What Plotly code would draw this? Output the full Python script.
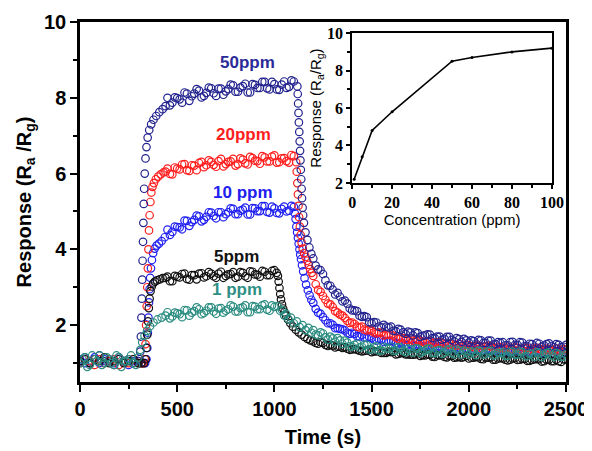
import plotly.graph_objects as go

# ---------------- data ----------------
T_BASE = list(range(0, 301, 25))                       # baseline sampling (s)
T_BASE_MID = [12.5 + 25 * k for k in range(12)]        # interleaved baseline samples
T_PLAT = list(range(450, 1101, 25))                    # plateau sampling, 50/20/10 ppm
T_PLAT_MID = [462.5 + 25 * k for k in range(26)]
T_PLAT_LOW = list(range(450, 1001, 25))                # plateau sampling, 5/1 ppm
T_PLAT_LOW_MID = [462.5 + 25 * k for k in range(22)]
T_TAIL = list(range(1200, 2501, 25))                   # recovery sampling
T_TAIL_MID = [1212.5 + 25 * k for k in range(52)]

# 50 ppm
t_50 = (T_BASE
        + [305, 310, 313, 316, 318, 320, 322, 324, 326, 328, 330, 333, 337, 342, 348, 356, 366, 378, 392, 408, 425, 440]
        + T_PLAT
        + [1118, 1120, 1122, 1124, 1126, 1128, 1130, 1132, 1134, 1136, 1138, 1140, 1142, 1145, 1148, 1152, 1160, 1170, 1180, 1190]
        + T_TAIL + T_PLAT_MID + T_TAIL_MID)
r_50 = ([1.05, 1.15, 1.0, 1.1, 1.2, 1.05, 1.1, 0.95, 1.15, 1.05, 1.1, 1.0, 1.05]
        + [1.1, 1.3, 1.7, 2.2, 2.7, 3.2, 3.7, 4.2, 4.7, 5.2, 5.6, 6.0, 6.4, 6.7, 6.95, 7.15, 7.3, 7.42, 7.52, 7.62, 7.7, 7.78]
        + [8.00, 7.87, 7.99, 7.87, 8.11, 8.04, 8.23, 8.01, 8.13, 8.25, 8.05, 8.24, 8.17, 8.35, 8.16, 8.27, 8.37, 8.14, 8.34, 8.26,
           8.42, 8.22, 8.36, 8.21, 8.43, 8.29, 8.43]
        + [8.3, 8.1, 7.85, 7.6, 7.35, 7.1, 6.85, 6.6, 6.35, 6.1, 5.85, 5.6, 5.35, 5.1, 4.9, 4.7, 4.45, 4.25, 4.05, 3.88]
        + [3.76, 3.47, 3.35, 3.05, 2.94, 2.85, 2.63, 2.57, 2.39, 2.37, 2.22, 2.21, 2.05, 2.07, 1.94, 1.96, 1.96, 1.84, 1.88, 1.77,
           1.81, 1.81, 1.69, 1.73, 1.75, 1.65, 1.70, 1.64, 1.69, 1.57, 1.63, 1.64, 1.54, 1.58, 1.61, 1.53, 1.59, 1.49, 1.55, 1.55,
           1.47, 1.56, 1.48, 1.54, 1.45, 1.50, 1.53, 1.43, 1.50, 1.45, 1.50, 1.42, 1.48]
        + [7.80, 8.01, 7.96, 8.14, 7.92, 8.11, 8.19, 8.05, 8.27, 8.12, 8.24, 8.08, 8.23, 8.33, 8.16, 8.31, 8.14, 8.36, 8.26, 8.42,
           8.25, 8.42, 8.22, 8.35, 8.26, 8.46]
        + [3.57, 3.45, 3.18, 3.04, 2.81, 2.75, 2.65, 2.44, 2.39, 2.25, 2.24, 2.08, 2.08, 1.96, 2.01, 1.94, 1.85, 1.90, 1.81, 1.83,
           1.73, 1.79, 1.72, 1.76, 1.66, 1.70, 1.61, 1.69, 1.61, 1.66, 1.56, 1.60, 1.60, 1.51, 1.60, 1.53, 1.59, 1.50, 1.53, 1.47,
           1.55, 1.48, 1.55, 1.45, 1.51, 1.43, 1.51, 1.46, 1.52, 1.42, 1.48, 1.43])

# 20 ppm
t_20 = (T_BASE
        + [315, 325, 333, 337, 340, 343, 346, 349, 352, 355, 358, 362, 367, 373, 380, 390, 402, 415, 430, 440]
        + T_PLAT
        + [1112, 1115, 1118, 1121, 1124, 1127, 1131, 1135, 1140, 1146, 1153, 1160, 1168, 1176, 1184, 1192]
        + T_TAIL + T_PLAT_MID + T_TAIL_MID)
r_20 = ([1.0, 1.1, 1.05, 0.95, 1.1, 1.0, 1.05, 1.1, 0.95, 1.05, 1.0, 1.1, 1.0]
        + [1.0, 1.0, 1.1, 1.5, 2.0, 2.5, 3.0, 3.5, 4.0, 4.5, 4.9, 5.25, 5.5, 5.65, 5.75, 5.85, 5.92, 5.98, 6.03, 6.05]
        + [6.13, 5.98, 6.13, 6.24, 6.09, 6.22, 6.09, 6.31, 6.22, 6.31, 6.18, 6.39, 6.25, 6.32, 6.21, 6.40, 6.27, 6.44, 6.34, 6.26,
           6.43, 6.32, 6.48, 6.30, 6.41, 6.29, 6.46]
        + [6.3, 6.05, 5.75, 5.45, 5.15, 4.85, 4.6, 4.38, 4.18, 4.02, 3.9, 3.8, 3.7, 3.59, 3.48, 3.38]
        + [3.30, 2.93, 2.77, 2.57, 2.48, 2.33, 2.25, 2.11, 2.07, 1.96, 1.96, 1.86, 1.85, 1.78, 1.80, 1.75, 1.75, 1.67, 1.68, 1.61,
           1.65, 1.58, 1.59, 1.54, 1.57, 1.54, 1.55, 1.49, 1.52, 1.46, 1.51, 1.45, 1.47, 1.42, 1.46, 1.43, 1.46, 1.40, 1.43, 1.38,
           1.43, 1.37, 1.40, 1.35, 1.40, 1.37, 1.40, 1.34, 1.38, 1.32, 1.38, 1.33, 1.35]
        + [5.99, 6.16, 6.11, 6.25, 6.07, 6.21, 6.28, 6.17, 6.35, 6.23, 6.33, 6.19, 6.31, 6.39, 6.25, 6.37, 6.24, 6.41, 6.33, 6.46,
           6.32, 6.45, 6.29, 6.40, 6.33, 6.49]
        + [3.08, 2.88, 2.67, 2.55, 2.37, 2.28, 2.19, 2.06, 2.03, 1.94, 1.88, 1.89, 1.81, 1.81, 1.73, 1.74, 1.72, 1.64, 1.66, 1.61,
           1.59, 1.62, 1.56, 1.58, 1.51, 1.54, 1.53, 1.47, 1.50, 1.46, 1.45, 1.49, 1.44, 1.46, 1.40, 1.44, 1.44, 1.38, 1.42, 1.38,
           1.37, 1.42, 1.37, 1.40, 1.34, 1.38, 1.38, 1.33, 1.36, 1.33, 1.33, 1.37])

# 10 ppm
t_10 = (T_BASE
        + [320, 335, 342, 346, 349, 352, 355, 358, 361, 365, 370, 376, 384, 394, 406, 420, 436]
        + T_PLAT
        + [1105, 1109, 1113, 1117, 1121, 1125, 1129, 1133, 1137, 1142, 1148, 1155, 1163, 1172, 1181, 1190]
        + T_TAIL + T_PLAT_MID + T_TAIL_MID)
r_10 = ([1.1, 1.0, 1.05, 1.15, 1.0, 1.1, 1.05, 1.0, 1.1, 1.05, 0.95, 1.05, 1.0]
        + [1.0, 1.0, 1.1, 1.4, 1.8, 2.2, 2.6, 2.95, 3.25, 3.5, 3.72, 3.9, 4.02, 4.1, 4.15, 4.22, 4.32]
        + [4.52, 4.46, 4.59, 4.53, 4.75, 4.72, 4.89, 4.74, 4.86, 4.97, 4.82, 4.98, 4.93, 5.08, 4.93, 5.02, 5.10, 4.92, 5.08, 5.01,
           5.14, 4.97, 5.08, 4.95, 5.13, 5.02, 5.12]
        + [4.95, 4.8, 4.6, 4.45, 4.3, 4.15, 4.0, 3.86, 3.74, 3.58, 3.42, 3.24, 3.07, 2.92, 2.79, 2.67]
        + [2.59, 2.33, 2.21, 2.05, 2.01, 1.92, 1.89, 1.80, 1.80, 1.71, 1.74, 1.66, 1.66, 1.59, 1.62, 1.58, 1.59, 1.52, 1.54, 1.47,
           1.52, 1.45, 1.47, 1.42, 1.45, 1.42, 1.44, 1.38, 1.41, 1.35, 1.40, 1.34, 1.36, 1.32, 1.36, 1.33, 1.36, 1.30, 1.34, 1.28,
           1.34, 1.28, 1.31, 1.26, 1.31, 1.28, 1.31, 1.26, 1.29, 1.24, 1.30, 1.24, 1.27]
        + [4.38, 4.60, 4.58, 4.76, 4.62, 4.78, 4.87, 4.78, 4.98, 4.88, 4.98, 4.85, 4.98, 5.07, 4.93, 5.05, 4.92, 5.09, 5.01, 5.14,
           4.99, 5.13, 4.96, 5.07, 5.00, 5.15]
        + [2.43, 2.30, 2.13, 2.05, 1.92, 1.90, 1.86, 1.77, 1.77, 1.70, 1.67, 1.69, 1.62, 1.63, 1.56, 1.58, 1.57, 1.50, 1.52, 1.47,
           1.46, 1.49, 1.44, 1.46, 1.39, 1.42, 1.42, 1.36, 1.39, 1.35, 1.34, 1.38, 1.34, 1.36, 1.30, 1.34, 1.34, 1.29, 1.32, 1.29,
           1.28, 1.33, 1.28, 1.31, 1.25, 1.29, 1.30, 1.24, 1.28, 1.25, 1.24, 1.29])

# 5 ppm
t_5 = (T_BASE
       + [315, 330, 338, 342, 346, 350, 354, 358, 363, 369, 376, 385, 396, 410, 425, 440]
       + T_PLAT_LOW
       + [1012, 1018, 1022, 1026, 1030, 1034, 1039, 1045, 1052, 1060, 1070, 1082, 1095, 1110, 1125, 1140, 1155, 1170, 1185]
       + T_TAIL + T_PLAT_LOW_MID + T_TAIL_MID)
r_5 = ([1.05, 1.1, 1.0, 1.1, 1.05, 1.15, 1.0, 1.05, 1.1, 1.0, 1.05, 1.1, 1.0]
       + [1.0, 1.0, 1.1, 1.4, 1.75, 2.1, 2.45, 2.7, 2.9, 3.02, 3.1, 3.15, 3.18, 3.21, 3.24, 3.25]
       + [3.28, 3.16, 3.28, 3.35, 3.22, 3.32, 3.21, 3.37, 3.29, 3.36, 3.25, 3.41, 3.30, 3.35, 3.25, 3.40, 3.29, 3.42, 3.34, 3.28,
          3.41, 3.32, 3.45]
       + [3.38, 3.3, 3.15, 2.98, 2.82, 2.68, 2.55, 2.44, 2.34, 2.25, 2.15, 2.05, 1.96, 1.88, 1.81, 1.75, 1.69, 1.64, 1.6]
       + [1.57, 1.51, 1.53, 1.45, 1.46, 1.43, 1.40, 1.38, 1.36, 1.35, 1.31, 1.33, 1.29, 1.31, 1.27, 1.27, 1.29, 1.23, 1.26, 1.23,
          1.22, 1.23, 1.19, 1.20, 1.22, 1.16, 1.20, 1.16, 1.19, 1.14, 1.16, 1.16, 1.12, 1.14, 1.15, 1.10, 1.14, 1.09, 1.12, 1.12,
          1.07, 1.12, 1.08, 1.11, 1.06, 1.08, 1.10, 1.04, 1.09, 1.05, 1.09, 1.03, 1.08]
       + [3.16, 3.30, 3.26, 3.36, 3.20, 3.32, 3.36, 3.26, 3.40, 3.29, 3.36, 3.25, 3.34, 3.40, 3.28, 3.38, 3.25, 3.41, 3.33, 3.43,
          3.32, 3.43]
       + [1.53, 1.55, 1.48, 1.48, 1.41, 1.43, 1.42, 1.35, 1.37, 1.33, 1.32, 1.36, 1.31, 1.33, 1.27, 1.30, 1.30, 1.24, 1.27, 1.23,
          1.22, 1.26, 1.21, 1.23, 1.17, 1.21, 1.21, 1.15, 1.19, 1.15, 1.14, 1.19, 1.14, 1.16, 1.11, 1.14, 1.15, 1.09, 1.13, 1.09,
          1.09, 1.13, 1.09, 1.11, 1.06, 1.10, 1.10, 1.05, 1.09, 1.05, 1.05, 1.10])

# 1 ppm
t_1 = (T_BASE
       + [310, 320, 332, 345, 360, 378, 398, 420, 440]
       + T_PLAT_LOW
       + [1015, 1030, 1040, 1050, 1060, 1072, 1085, 1100, 1115, 1130, 1145, 1160, 1175, 1190]
       + T_TAIL + T_BASE_MID + T_PLAT_LOW_MID + T_TAIL_MID)
r_1 = ([1.0, 1.15, 0.95, 1.1, 1.2, 1.0, 1.1, 0.95, 1.15, 1.05, 1.1, 1.0, 1.15]
       + [1.35, 1.55, 1.72, 1.85, 1.97, 2.07, 2.15, 2.2, 2.25]
       + [2.34, 2.23, 2.31, 2.21, 2.39, 2.33, 2.47, 2.29, 2.38, 2.47, 2.30, 2.45, 2.38, 2.52, 2.36, 2.45, 2.52, 2.34, 2.49, 2.42,
          2.55, 2.38, 2.48]
       + [2.5, 2.38, 2.4, 2.26, 2.3, 2.16, 2.2, 2.05, 2.1, 1.95, 2.0, 1.87, 1.93, 1.8]
       + [1.87, 1.73, 1.78, 1.62, 1.65, 1.66, 1.51, 1.54, 1.43, 1.51, 1.43, 1.48, 1.36, 1.44, 1.33, 1.39, 1.43, 1.33, 1.41, 1.29,
          1.36, 1.39, 1.27, 1.33, 1.38, 1.26, 1.35, 1.28, 1.36, 1.23, 1.31, 1.33, 1.23, 1.28, 1.33, 1.22, 1.31, 1.20, 1.27, 1.29,
          1.19, 1.30, 1.22, 1.29, 1.18, 1.24, 1.29, 1.16, 1.26, 1.20, 1.26, 1.16, 1.23]
       + [1.1, 0.9, 1.2, 1.05, 0.95, 1.15, 1.0, 1.2, 0.9, 1.05, 1.2, 0.95]
       + [2.18, 2.33, 2.29, 2.40, 2.25, 2.37, 2.42, 2.32, 2.47, 2.36, 2.44, 2.33, 2.42, 2.49, 2.36, 2.47, 2.34, 2.50, 2.42, 2.52,
          2.41, 2.52]
       + [1.75, 1.81, 1.68, 1.70, 1.56, 1.60, 1.59, 1.44, 1.48, 1.41, 1.49, 1.36, 1.42, 1.33, 1.43, 1.38, 1.32, 1.42, 1.33, 1.38,
          1.28, 1.38, 1.31, 1.38, 1.27, 1.33, 1.24, 1.35, 1.27, 1.35, 1.23, 1.29, 1.31, 1.21, 1.31, 1.24, 1.32, 1.21, 1.26, 1.19,
          1.29, 1.22, 1.30, 1.18, 1.25, 1.17, 1.26, 1.21, 1.28, 1.16, 1.23, 1.17])

# inset: response vs concentration
conc = [1, 5, 10, 20, 50, 60, 80, 100]
resp = [2.2, 3.4, 4.8, 5.8, 8.5, 8.7, 9.0, 9.2]

# drawing order: blue and red underneath, then navy, black, teal on top
SERIES = [
    ("10 ppm", t_10, r_10, "#2020f0"),
    ("20ppm", t_20, r_20, "#ff1e1e"),
    ("50ppm", t_50, r_50, "#23238f"),
    ("5ppm", t_5, r_5, "#111111"),
    ("1 ppm", t_1, r_1, "#2a8c80"),
]
LABELS = [("50ppm", 861, 8.94, "#2a2a98"), ("20ppm", 840, 7.02, "#ff1e1e"),
          ("10 ppm", 840, 5.51, "#2020f0"), ("5ppm", 804, 3.82, "#111111"),
          ("1 ppm", 809, 2.93, "#2f8f86")]

for name, t, r, _ in SERIES:
    assert len(t) == len(r), (name, len(t), len(r))

SANS = "Liberation Sans, Arial, sans-serif"
SERIF = "Liberation Serif, Times New Roman, serif"

fig = go.Figure()
for name, t, r, col in SERIES:
    fig.add_trace(go.Scatter(
        x=t, y=r, mode="markers", name=name,
        marker=dict(symbol="circle-open", size=7.5, color=col, line=dict(width=1.2, color=col)),
        xaxis="x", yaxis="y", showlegend=False))

fig.add_trace(go.Scatter(
    x=conc, y=resp, mode="lines+markers", xaxis="x2", yaxis="y2",
    line=dict(color="black", width=1.6), marker=dict(size=3, color="black"),
    showlegend=False))

for txt, x, y, col in LABELS:
    fig.add_annotation(x=x, y=y, xref="x", yref="y", text=f"<b>{txt}</b>", showarrow=False,
                       font=dict(family=SANS, size=17, color=col))

axis_common = dict(showline=True, linecolor="black", mirror=True, showgrid=False, zeroline=False,
                   ticks="outside", tickcolor="black", automargin=False)

# the page adds an 8 px body margin, so the figure is sized to fit inside the window
fig.update_layout(
    width=584, height=443,
    margin=dict(l=72, r=26, t=14, b=69),
    paper_bgcolor="white", plot_bgcolor="white",
    xaxis=dict(**axis_common, range=[0, 2500], dtick=500, tick0=0, linewidth=2.5,
               ticklen=7, tickwidth=2,
               minor=dict(dtick=250, ticks="outside", ticklen=4, tickwidth=2, tickcolor="black"),
               tickfont=dict(family=SANS, size=20, color="black", weight="bold"),
               title=dict(text="<b>Time (s)</b>", font=dict(family=SANS, size=20, color="black"), standoff=12)),
    yaxis=dict(**axis_common, range=[0.5, 10], dtick=2, tick0=0, linewidth=2.5,
               ticklen=7, tickwidth=2,
               minor=dict(dtick=1, ticks="outside", ticklen=4, tickwidth=2, tickcolor="black"),
               tickfont=dict(family=SANS, size=20, color="black", weight="bold"),
               title=dict(text="<b>Response (R<sub>a</sub> /R<sub>g</sub>)</b>",
                          font=dict(family=SANS, size=20, color="black"), standoff=8)),
    xaxis2=dict(**axis_common, domain=[0.560, 0.971], anchor="y2", range=[0, 100], dtick=20, linewidth=2,
                ticklen=4, tickwidth=1.5,
                minor=dict(dtick=10, ticks="outside", ticklen=3, tickwidth=1.5, tickcolor="black"),
                tickfont=dict(family=SERIF, size=16, color="black", weight="bold"),
                title=dict(text="Concentration (ppm)", font=dict(family=SANS, size=15, color="black"), standoff=2)),
    yaxis2=dict(**axis_common, domain=[0.553, 0.969], anchor="x2", range=[2, 10], dtick=2, linewidth=2,
                ticklen=4, tickwidth=1.5,
                minor=dict(dtick=1, ticks="outside", ticklen=3, tickwidth=1.5, tickcolor="black"),
                tickfont=dict(family=SERIF, size=16, color="black", weight="bold"),
                title=dict(text="Response (R<sub>a</sub>/R<sub>g</sub>)",
                           font=dict(family=SANS, size=15, color="black"), standoff=2)),
)

fig.write_html("out.html")
